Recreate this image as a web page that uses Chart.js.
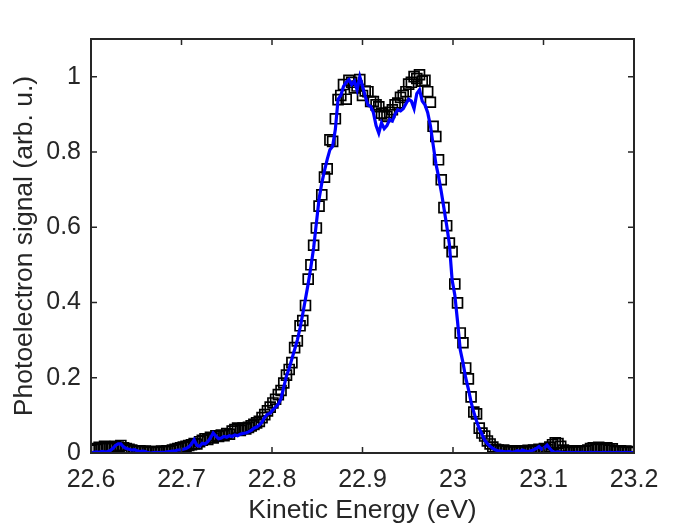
<!DOCTYPE html>
<html>
<head>
<meta charset="utf-8">
<script src="https://cdn.jsdelivr.net/npm/chart.js@4.4.1/dist/chart.umd.min.js"></script>
<style>
	html, body { margin: 0; padding: 0; background: #ffffff; }
	#spectrum { display: block; }
</style>
</head>
<body>
<canvas id="spectrum" width="700" height="525"></canvas>
<script>
// kinetic energy axis (eV)
const energy = [
	22.600, 22.603, 22.606, 22.609, 22.612, 22.615, 22.618, 22.621, 22.624, 22.627,
	22.630, 22.633, 22.636, 22.639, 22.642, 22.645, 22.648, 22.651, 22.654, 22.657,
	22.660, 22.663, 22.666, 22.669, 22.672, 22.675, 22.678, 22.681, 22.684, 22.687,
	22.690, 22.693, 22.696, 22.699, 22.702, 22.705, 22.708, 22.711, 22.714, 22.717,
	22.720, 22.723, 22.726, 22.729, 22.732, 22.735, 22.738, 22.741, 22.744, 22.747,
	22.750, 22.753, 22.756, 22.759, 22.762, 22.765, 22.768, 22.771, 22.774, 22.777,
	22.780, 22.783, 22.786, 22.789, 22.792, 22.795, 22.798, 22.801, 22.804, 22.807,
	22.810, 22.813, 22.816, 22.819, 22.822, 22.825, 22.828, 22.831, 22.834, 22.837,
	22.840, 22.843, 22.846, 22.849, 22.852, 22.855, 22.858, 22.861, 22.864, 22.867,
	22.870, 22.873, 22.876, 22.879, 22.882, 22.885, 22.888, 22.891, 22.894, 22.897,
	22.900, 22.903, 22.906, 22.909, 22.912, 22.915, 22.918, 22.921, 22.924, 22.927,
	22.930, 22.933, 22.936, 22.939, 22.942, 22.945, 22.948, 22.951, 22.954, 22.957,
	22.960, 22.963, 22.966, 22.969, 22.972, 22.975, 22.978, 22.981, 22.984, 22.987,
	22.990, 22.993, 22.996, 22.999, 23.002, 23.005, 23.008, 23.011, 23.014, 23.017,
	23.020, 23.023, 23.026, 23.029, 23.032, 23.035, 23.038, 23.041, 23.044, 23.047,
	23.050, 23.053, 23.056, 23.059, 23.062, 23.065, 23.068, 23.071, 23.074, 23.077,
	23.080, 23.083, 23.086, 23.089, 23.092, 23.095, 23.098, 23.101, 23.104, 23.107,
	23.110, 23.113, 23.116, 23.119, 23.122, 23.125, 23.128, 23.131, 23.134, 23.137,
	23.140, 23.143, 23.146, 23.149, 23.152, 23.155, 23.158, 23.161, 23.164, 23.167,
	23.170, 23.173, 23.176, 23.179, 23.182, 23.185, 23.188, 23.191, 23.194, 23.197,
	23.200
];

// measured signal (squares)
const measured = [
	0.008, 0.012, 0.010, 0.015, 0.012, 0.018, 0.014, 0.016, 0.012, 0.018,
	0.016, 0.020, 0.014, 0.012, 0.010, 0.008, 0.006, 0.005, 0.006, 0.004,
	0.005, 0.003, 0.004, 0.002, 0.004, 0.003, 0.005, 0.004, 0.006, 0.005,
	0.008, 0.010, 0.012, 0.014, 0.016, 0.018, 0.020, 0.022, 0.025, 0.024,
	0.030, 0.034, 0.038, 0.036, 0.042, 0.040, 0.046, 0.044, 0.048, 0.046,
	0.052, 0.050, 0.058, 0.062, 0.066, 0.060, 0.066, 0.064, 0.068, 0.072,
	0.076, 0.080, 0.084, 0.094, 0.102, 0.112, 0.122, 0.133, 0.143, 0.155,
	0.166, 0.186, 0.207, 0.222, 0.240, 0.280, 0.298, 0.338, 0.352, 0.392,
	0.462, 0.500, 0.552, 0.598, 0.656, 0.686, 0.733, 0.755, 0.832, 0.828,
	0.888, 0.939, 0.950, 0.979, 0.940, 0.990, 0.985, 0.970, 0.975, 0.992,
	0.950, 0.962, 0.960, 0.934, 0.934, 0.925, 0.920, 0.903, 0.898, 0.894,
	0.905, 0.912, 0.925, 0.930, 0.945, 0.950, 0.960, 0.980, 0.985, 1.000,
	0.995, 1.005, 0.988, 0.990, 0.960, 0.932, 0.868, 0.841, 0.779, 0.726,
	0.652, 0.604, 0.558, 0.535, 0.449, 0.399, 0.319, 0.293, 0.226, 0.197,
	0.149, 0.109, 0.104, 0.066, 0.053, 0.045, 0.032, 0.024, 0.016, 0.010,
	0.008, 0.006, 0.008, 0.005, 0.004, 0.006, 0.003, 0.005, 0.004, 0.006,
	0.003, 0.007, 0.005, 0.008, 0.006, 0.010, 0.008, 0.012, 0.010, 0.016,
	0.022, 0.027, 0.025, 0.018, 0.008, 0.004, 0.002, 0.006, 0.003, 0.005,
	0.004, 0.006, 0.005, 0.008, 0.012, 0.014, 0.010, 0.015, 0.012, 0.010,
	0.014, 0.008, 0.011, 0.006, 0.004, 0.006, 0.003, 0.005, 0.002, 0.004,
	0.003
];

// model curve (blue line)
const model = [
	0.000, 0.002, 0.003, 0.002, 0.004, 0.003, 0.004, 0.006, 0.012, 0.020,
	0.024, 0.024, 0.016, 0.012, 0.010, 0.008, 0.009, 0.006, 0.004, 0.005,
	0.004, 0.001, 0.000, 0.001, 0.002, 0.001, 0.002, 0.002, 0.003, 0.004,
	0.005, 0.006, 0.008, 0.008, 0.010, 0.012, 0.016, 0.024, 0.035, 0.020,
	0.018, 0.026, 0.024, 0.030, 0.040, 0.053, 0.045, 0.038, 0.040, 0.044,
	0.042, 0.046, 0.044, 0.048, 0.046, 0.050, 0.052, 0.053, 0.056, 0.060,
	0.066, 0.069, 0.074, 0.082, 0.095, 0.103, 0.106, 0.115, 0.122, 0.130,
	0.145, 0.175, 0.205, 0.225, 0.250, 0.275, 0.300, 0.332, 0.370, 0.410,
	0.450, 0.495, 0.545, 0.610, 0.675, 0.717, 0.750, 0.780, 0.806, 0.815,
	0.860, 0.940, 0.950, 0.974, 0.985, 0.992, 0.979, 0.988, 0.965, 1.000,
	0.975, 0.948, 0.925, 0.921, 0.905, 0.870, 0.850, 0.877, 0.862, 0.870,
	0.886, 0.882, 0.900, 0.912, 0.909, 0.915, 0.928, 0.940, 0.935, 0.915,
	0.955, 0.965, 0.935, 0.925, 0.905, 0.870, 0.820, 0.770, 0.735, 0.695,
	0.650, 0.605, 0.555, 0.460, 0.420, 0.350, 0.274, 0.240, 0.200, 0.170,
	0.135, 0.108, 0.085, 0.065, 0.050, 0.034, 0.025, 0.018, 0.012, 0.008,
	0.006, 0.005, 0.004, 0.003, 0.004, 0.002, 0.003, 0.006, 0.004, 0.008,
	0.005, 0.004, 0.006, 0.008, 0.012, 0.017, 0.010, 0.014, 0.021, 0.012,
	0.004, 0.002, 0.003, 0.002, 0.001, 0.001, 0.002, 0.001, 0.001, 0.002,
	0.001, 0.002, 0.001, 0.001, 0.002, 0.001, 0.002, 0.001, 0.001, 0.002,
	0.001, 0.002, 0.001, 0.001, 0.002, 0.001, 0.001, 0.002, 0.001, 0.001,
	0.001
];

const xTicks = [22.6, 22.7, 22.8, 22.9, 23, 23.1, 23.2];
const yTicks = [0, 0.2, 0.4, 0.6, 0.8, 1];

(function () {
	const axisColor = '#262626';
	const fontFamily = "'Liberation Sans', Arial, Helvetica, sans-serif";

	function toPoints(xs, ys) {
		return xs.map((x, i) => ({ x: x, y: ys[i] }));
	}

	// matlab-like box with inward ticks on all four sides
	const boxTicks = {
		id: 'boxTicks',
		afterDraw(chart) {
			const { ctx, chartArea: a, scales } = chart;
			const len = 6;
			ctx.save();
			ctx.strokeStyle = axisColor;
			ctx.lineWidth = 1.5;
			ctx.beginPath();
			scales.x.ticks.forEach(t => {
				const px = scales.x.getPixelForValue(t.value);
				ctx.moveTo(px, a.bottom);
				ctx.lineTo(px, a.bottom - len);
				ctx.moveTo(px, a.top);
				ctx.lineTo(px, a.top + len);
			});
			scales.y.ticks.forEach(t => {
				const py = scales.y.getPixelForValue(t.value);
				ctx.moveTo(a.left, py);
				ctx.lineTo(a.left + len, py);
				ctx.moveTo(a.right, py);
				ctx.lineTo(a.right - len, py);
			});
			ctx.stroke();
			ctx.lineWidth = 2;
			ctx.strokeRect(a.left, a.top, a.right - a.left, a.bottom - a.top);
			ctx.restore();
		},
	};

	const config = {
		data: {
			datasets: [
				{
					type: 'line',
					label: 'Model',
					data: toPoints(energy, model),
					borderColor: '#0000ff',
					borderWidth: 3.2,
					pointRadius: 0,
					tension: 0,
					fill: false,
					order: 0,
				},
				{
					type: 'scatter',
					label: 'Measured',
					data: toPoints(energy, measured),
					pointStyle: 'rect',
					pointRadius: 7,
					pointBorderWidth: 1.7,
					pointBorderColor: '#000000',
					pointBackgroundColor: 'rgba(0,0,0,0)',
					showLine: false,
					order: 1,
				},
			],
		},
		options: {
			responsive: false,
			animation: false,
			events: [],
			layout: {
				padding: { left: 0, top: 39, right: 66, bottom: 0 },
			},
			plugins: {
				legend: { display: false },
				tooltip: { enabled: false },
			},
			scales: {
				x: {
					type: 'linear',
					min: 22.6,
					max: 23.2,
					afterBuildTicks: scale => {
						scale.ticks = xTicks.map(v => ({ value: v }));
					},
					afterFit: scale => {
						scale.height = 72;
					},
					grid: { display: false, drawTicks: false },
					border: { display: false },
					ticks: {
						padding: 12,
						color: axisColor,
						font: { family: fontFamily, size: 25 },
						callback: v => String(v),
						maxRotation: 0,
					},
					title: {
						display: true,
						text: 'Kinetic Energy (eV)',
						color: axisColor,
						font: { family: fontFamily, size: 26.5, lineHeight: 1.1 },
						padding: { top: 0, bottom: 0 },
					},
				},
				y: {
					type: 'linear',
					min: 0,
					max: 1.1,
					afterBuildTicks: scale => {
						scale.ticks = yTicks.map(v => ({ value: v }));
					},
					afterFit: scale => {
						scale.width = 91;
					},
					grid: { display: false, drawTicks: false },
					border: { display: false },
					ticks: {
						padding: 10,
						color: axisColor,
						font: { family: fontFamily, size: 25 },
						callback: v => String(v),
					},
					title: {
						display: true,
						text: 'Photoelectron signal (arb. u.)',
						color: axisColor,
						font: { family: fontFamily, size: 26.5, lineHeight: 1.1 },
						padding: { top: 10, bottom: 0 },
					},
				},
			},
		},
		plugins: [boxTicks],
	};

	new Chart(document.querySelector('#spectrum'), config);
})();
</script>
</body>
</html>
